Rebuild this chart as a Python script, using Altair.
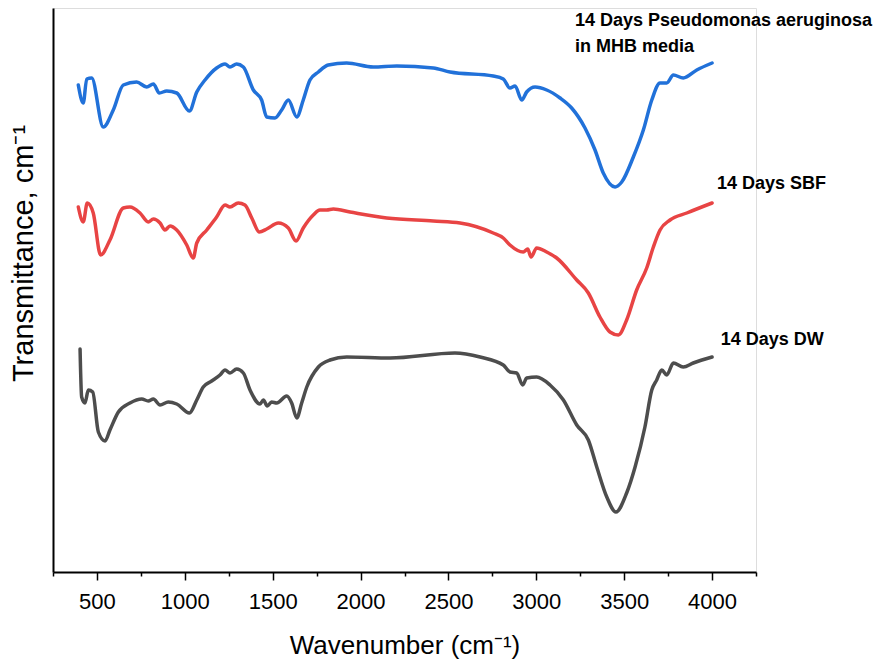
import altair as alt
import pandas as pd

# Wavenumber (cm^-1) and transmittance (arbitrary units, stacked offsets)
pa_wn = [394, 422, 442, 470, 536, 593, 650, 726, 783, 821, 855, 897, 954, 1026, 1068, 1115,
         1181, 1229, 1257, 1295, 1333, 1390, 1437, 1466, 1513, 1551, 1589, 1637, 1674, 1712,
         1760, 1816, 1921, 2072, 2206, 2414, 2509, 2755, 2812, 2850, 2879, 2917, 2945, 2993,
         3059, 3135, 3201, 3277, 3334, 3381, 3448, 3486, 3552, 3609, 3657, 3704, 3742, 3780,
         3836, 3913, 4000]
pa_t = [487, 469, 493, 494, 445, 462, 487, 490, 485, 488, 479, 481, 479, 461, 480, 492,
        504, 508, 505, 508, 505, 482, 472, 455, 454, 462, 472, 455, 472, 492,
        500, 507, 509, 505, 506, 504, 500, 496, 493, 484, 486, 472, 480, 485,
        482, 474, 464, 444, 422, 399, 385, 390, 415, 442, 472, 489, 489, 497,
        494, 502, 509]

sbf_wn = [394, 422, 445, 479, 521, 574, 650, 688, 745, 792, 821, 859, 887, 916, 954, 1011,
          1048, 1068, 1125, 1181, 1229, 1257, 1304, 1342, 1381, 1424, 1466, 1532, 1589, 1633,
          1674, 1731, 1769, 1807, 1845, 1940, 2149, 2414, 2566, 2755, 2812, 2850, 2926, 2951,
          2970, 3002, 3059, 3116, 3230, 3296, 3362, 3419, 3467, 3514, 3571, 3628, 3666, 3704,
          3761, 3856, 4000]
sbf_t = [365, 350, 369, 359, 317, 332, 364, 365, 359, 350, 353, 349, 342, 346, 342, 327,
         314, 329, 342, 355, 367, 365, 369, 367, 354, 340, 343, 349, 344, 331,
         344, 357, 362, 362, 363, 360, 354, 351, 349, 339, 334, 327, 320, 323,
         315, 324, 320, 314, 292, 279, 255, 240, 237, 252, 282, 304, 325, 342,
         352, 359, 369]

dw_wn = [404, 413, 432, 451, 476, 508, 546, 574, 622, 688, 755, 792, 821, 859, 906, 954,
         1026, 1068, 1105, 1153, 1200, 1229, 1257, 1295, 1333, 1371, 1428, 1447, 1469, 1494,
         1523, 1580, 1608, 1637, 1665, 1694, 1760, 1826, 1921, 2168, 2537, 2680, 2812, 2850,
         2888, 2923, 2945, 3002, 3078, 3154, 3230, 3296, 3344, 3401, 3453, 3514, 3562, 3618,
         3657, 3685, 3714, 3742, 3780, 3836, 3893, 4000]
dw_t = [223, 175, 169, 182, 180, 140, 131, 142, 160, 169, 173, 171, 173, 167, 170, 168,
        159, 172, 185, 191, 197, 202, 199, 203, 199, 182, 168, 172, 166, 170,
        169, 176, 169, 154, 169, 185, 205, 212, 215, 214, 219, 215, 207, 200,
        199, 187, 194, 195, 187, 172, 147, 132, 105, 75, 60, 79, 105, 145,
        182, 192, 202, 197, 209, 205, 209, 215]

series_names = ["Pseudomonas", "SBF", "DW"]
series_colors = ["#2171d9", "#e84444", "#4d4d4d"]

label_text = ["14 Days Pseudomonas aeruginosa", "in MHB media", "14 Days SBF", "14 Days DW"]
label_wn = [3220, 3220, 4028, 4049]
label_t = [546, 520, 383, 227]

x_ticks = list(range(250, 4251, 250))

rows = []
for name, wn, t in [("Pseudomonas", pa_wn, pa_t), ("SBF", sbf_wn, sbf_t), ("DW", dw_wn, dw_t)]:
    for a, b in zip(wn, t):
        rows.append({"series": name, "wn": a, "t": b})
df = pd.DataFrame(rows)
labels_df = pd.DataFrame({"text": label_text, "wn": label_wn, "t": label_t})

FONT = "Liberation Sans"

x_scale = alt.Scale(domain=[250, 4250], nice=False, zero=False)
y_scale = alt.Scale(domain=[0, 564], nice=False, zero=False)

lines = alt.Chart(df).mark_line(strokeWidth=3.5, strokeJoin="round", strokeCap="round",
                                interpolate="monotone").encode(
    x=alt.X("wn:Q", scale=x_scale,
            axis=alt.Axis(title="Wavenumber (cm⁻¹)", values=x_ticks, grid=False,
                          labelExpr="datum.value % 500 === 0 ? datum.label : ''",
                          format="d",
                          tickSize={"condition": {"test": "datum.value % 500 === 0", "value": 8}, "value": 4},
                          tickColor="black", tickWidth=1.5, domainColor="black", domainWidth=2,
                          labelFont=FONT, labelFontSize=22, labelColor="black", labelPadding=11,
                          labelFlush=False, labelOverlap=False,
                          titleFont=FONT, titleFontSize=26, titleFontWeight="normal",
                          titleColor="black", titlePadding=20)),
    y=alt.Y("t:Q", scale=y_scale,
            axis=alt.Axis(title="Transmittance, cm⁻¹", ticks=False, labels=False, grid=False,
                          domainColor="black", domainWidth=2,
                          titleFont=FONT, titleFontSize=29, titleFontWeight="normal",
                          titleColor="black", titlePadding=15, titleY=245)),
    color=alt.Color("series:N", scale=alt.Scale(domain=series_names, range=series_colors), legend=None),
    order=alt.Order("wn:Q"),
    detail="series:N",
)

texts = alt.Chart(labels_df).mark_text(align="left", baseline="alphabetic", font=FONT,
                                       fontSize=18, fontWeight="bold", color="black").encode(
    x=alt.X("wn:Q", scale=x_scale),
    y=alt.Y("t:Q", scale=y_scale),
    text="text:N",
)

chart = alt.layer(lines, texts).properties(
    width=703, height=564,
    autosize=alt.AutoSizeParams(type="none"),
    padding={"left": 45, "top": 0, "right": 132, "bottom": 88},
).configure_view(stroke=None).configure(background="white")

chart.save("out.html", embed_options={"renderer": "svg", "actions": False})
